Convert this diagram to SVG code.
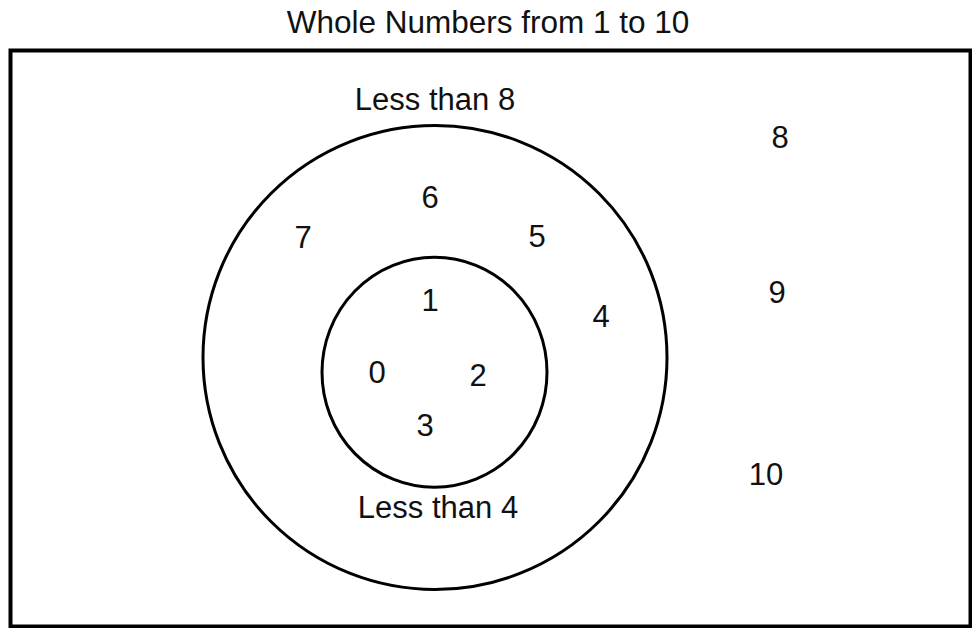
<svg xmlns="http://www.w3.org/2000/svg" width="972" height="628" viewBox="0 0 972 628">
<style>
text{font-family:"Liberation Sans",Arial,sans-serif;fill:#111;text-anchor:middle}
.t{font-size:31.5px}
.n{font-size:31px}
.shape{fill:none;stroke:#000;stroke-width:3}
.frame{fill:none;stroke:#000;stroke-width:4}
</style>
<rect width="972" height="628" fill="#fff"/>
<text class="t" x="488" y="33">Whole Numbers from 1 to 10</text>
<g id="universe">
<rect class="frame" x="10.5" y="50.5" width="960" height="576"/>
<text class="n" x="780" y="148">8</text>
<text class="n" x="777" y="303">9</text>
<text class="n" x="766" y="485">10</text>
</g>
<g id="less-than-8">
<circle class="shape" cx="435" cy="357.5" r="232"/>
<text class="n" x="435" y="110">Less than 8</text>
<text class="n" x="430" y="208">6</text>
<text class="n" x="303" y="248">7</text>
<text class="n" x="537" y="247">5</text>
<text class="n" x="601" y="327">4</text>
</g>
<g id="less-than-4">
<ellipse class="shape" cx="434.5" cy="372.3" rx="112.5" ry="115"/>
<text class="n" x="430" y="311">1</text>
<text class="n" x="377" y="383">0</text>
<text class="n" x="478" y="386">2</text>
<text class="n" x="425" y="436">3</text>
<text class="n" x="438" y="518">Less than 4</text>
</g>
<g id="connectors"/>
</svg>
